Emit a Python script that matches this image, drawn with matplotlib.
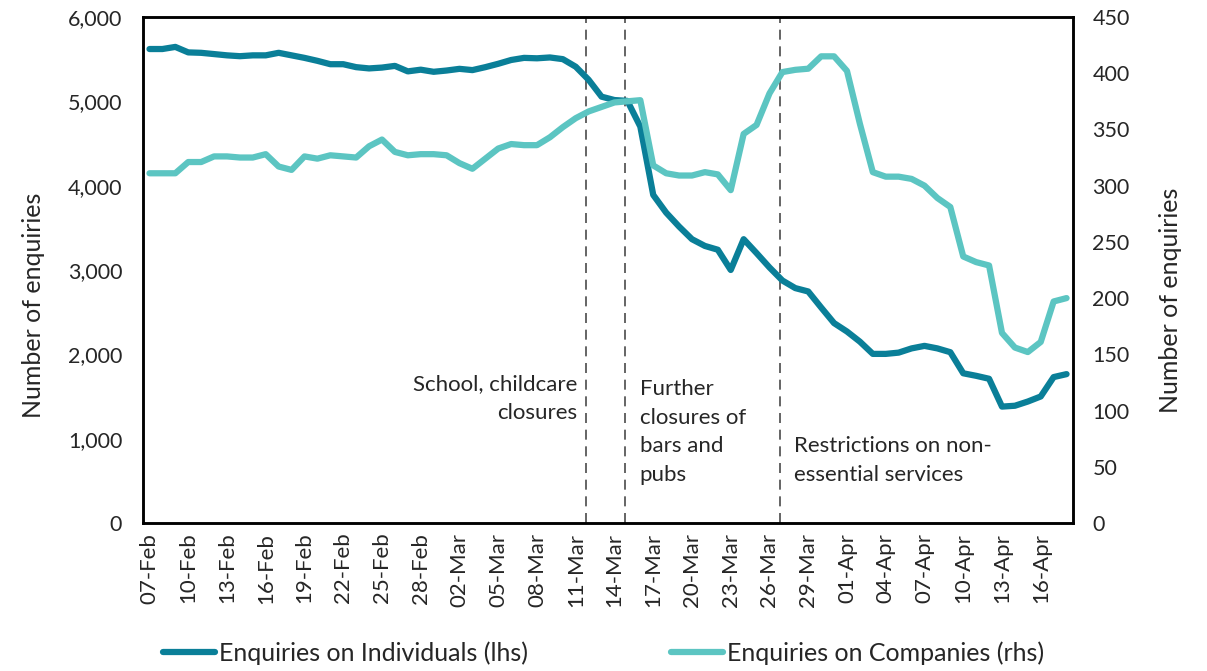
import pandas as pd
import matplotlib.pyplot as plt
from matplotlib.ticker import FuncFormatter

plt.rcParams['font.family'] = ['Lato', 'DejaVu Sans']

# daily dates, 07-Feb to 18-Apr 2020
dates = pd.date_range("2020-02-07", "2020-04-18", freq="D")

# enquiries on individuals (left axis)
individuals = [
    5620, 5620, 5645, 5580, 5575, 5560, 5545, 5535, 5545, 5545,
    5575, 5545, 5515, 5480, 5440, 5440, 5405, 5390, 5400, 5420,
    5355, 5375, 5350, 5365, 5385, 5370, 5405, 5445, 5490, 5515,
    5510, 5520, 5500, 5410, 5255, 5055, 5015, 5005, 4700, 3890,
    3680, 3515, 3365, 3285, 3240, 3000, 3365, 3200, 3030, 2875,
    2785, 2745, 2555, 2370, 2270, 2150, 2005, 2005, 2020, 2070,
    2100, 2070, 2025, 1775, 1745, 1710, 1380, 1390, 1440, 1500,
    1730, 1765,
]

# enquiries on companies (right axis)
companies = [
    311, 311, 311, 321, 321, 326, 326, 325, 325, 328,
    317, 314, 326, 324, 327, 326, 325, 335, 341, 330,
    327, 328, 328, 327, 320, 315, 324, 333, 337, 336,
    336, 343, 352, 360, 366, 370, 374, 375, 376, 318,
    311, 309, 309, 312, 310, 296, 346, 354, 382, 401,
    403, 404, 415, 415, 402, 355, 312, 308, 308, 306,
    300, 289, 281, 237, 232, 229, 169, 156, 152, 161,
    197, 200,
]

# policy events, in days from 07-Feb
event_pos = [33.8, 36.8, 48.8]

col_ind = "#0A7F98"
col_com = "#5CC5C2"
txt = "#262626"

fig = plt.figure(figsize=(12.07, 6.71), dpi=100)
ax = fig.add_axes([0.1185, 0.2206, 0.7705, 0.7541])
ax2 = ax.twinx()

x = list(range(len(dates)))
l1, = ax.plot(x, individuals, color=col_ind, linewidth=4.5, solid_capstyle="round",
              label="Enquiries on Individuals (lhs)", zorder=3)
l2, = ax2.plot(x, companies, color=col_com, linewidth=4.5, solid_capstyle="round",
               label="Enquiries on Companies (rhs)", zorder=3)

for p in event_pos:
    ax.axvline(p, color="#4a4a4a", linestyle=(0, (6, 4)), linewidth=1.2, zorder=2)

ax.set_xlim(-0.5, len(dates) - 0.5)
ax.set_ylim(0, 6000)
ax2.set_ylim(0, 450)
ax.set_yticks(range(0, 6001, 1000))
ax2.set_yticks(range(0, 451, 50))
ax.yaxis.set_major_formatter(FuncFormatter(lambda v, _: f"{int(v):,}"))

ax.set_xticks(x[::3])
ax.set_xticklabels([d.strftime("%d-%b") for d in dates[::3]], rotation=90)

for a in (ax, ax2):
    for s in a.spines.values():
        s.set_color("black")
        s.set_linewidth(1.8)
ax.tick_params(axis="y", length=0, labelsize=15.5, colors=txt, pad=15)
ax2.tick_params(axis="y", length=0, labelsize=15.5, colors=txt, pad=14)
ax.tick_params(axis="x", length=0, labelsize=16, colors=txt, pad=7)

ax.set_ylabel("Number of enquiries", fontsize=18, color=txt, labelpad=16, y=0.43)
ax2.set_ylabel("Number of enquiries", fontsize=18, color=txt, labelpad=21, y=0.44)

ann = dict(fontsize=16, color=txt, linespacing=1.55, va="top")
ax.text(33.1, 1770, "School, childcare\nclosures", ha="right", **ann)
ax.text(37.95, 1710, "Further\nclosures of\nbars and\npubs", ha="left", **ann)
ax.text(49.9, 1030, "Restrictions on non-\nessential services", ha="left", **ann)

fig.legend(handles=[l1, l2], loc="lower center", bbox_to_anchor=(0.5, -0.024),
           ncol=2, frameon=False, fontsize=18, handlelength=2.1, handletextpad=0.15,
           columnspacing=5.7, labelcolor=txt)

fig.savefig("out.png", dpi=100)
